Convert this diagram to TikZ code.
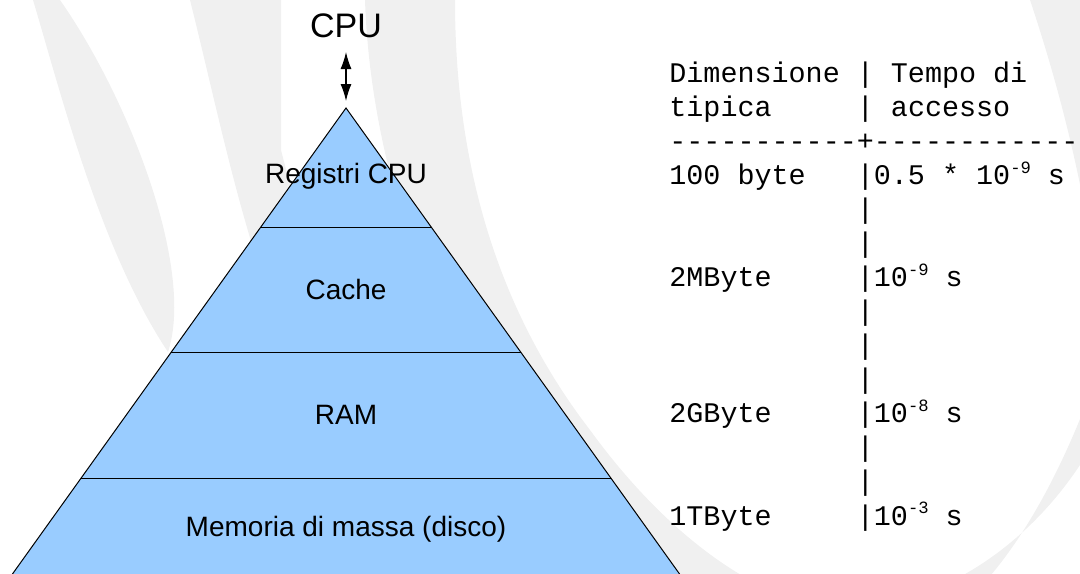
\documentclass[tikz,border=0pt]{standalone}
\usepackage{fontspec}
\setmainfont{Liberation Sans}
\setmonofont{Liberation Mono}
\usetikzlibrary{arrows.meta}
\definecolor{pyrblue}{HTML}{99CCFF}
\definecolor{wmgray}{HTML}{F0F0F0}
\newcommand\supx[1]{\raisebox{5.6pt}{\fontsize{8.6}{9}\selectfont #1}}
\tikzset{
  lvl/.style={anchor=base, inner sep=0pt, font=\fontsize{14}{16}\selectfont},
  tabrow/.style={anchor=base west, inner sep=0pt, font=\ttfamily\fontsize{14.2}{16}\selectfont},
  layer/.style={draw=black, line width=0.5pt},
  wm/.style={fill=wmgray, draw=none},
  dbl/.style={{Latex[length=8.5pt,width=5.5pt]}-{Latex[length=8.5pt,width=5.5pt]}, line width=0.6pt},
}
\begin{document}
\begin{tikzpicture}[x=0.5pt,y=-0.5pt]
\useasboundingbox (0,0) rectangle (1080,573);
\clip (0,0) rectangle (1080,573);
% faint watermark arcs
\fill[wm] (33,0) .. controls (60,90) and (100,250) .. (168,352)
          .. controls (195,270) and (130,100) .. (60,0) -- cycle;
\fill[wm] (190,0) .. controls (215,100) and (235,200) .. (270,300)
          -- (320,300) -- (281,150) -- (281,0) -- cycle;
\fill[wm] (365,0) -- (455,0) .. controls (455,150) and (490,300) .. (590,430)
          .. controls (670,540) and (760,600) .. (835,610)
          .. controls (940,610) and (1040,540) .. (1095,440)
          -- (1095,380) .. controls (1030,560) and (940,660) .. (835,660)
          .. controls (700,660) and (560,560) .. (500,450)
          .. controls (420,300) and (370,150) .. (365,0) -- cycle;
\fill[wm] (1030,0) .. controls (1050,60) and (1070,130) .. (1085,210) -- (1085,0) -- cycle;
% CPU and arrow
\node[anchor=base, inner sep=0pt, font=\fontsize{17}{20}\selectfont] (cpu) at (346,37) {CPU};
\coordinate (a1) at (346,52);
\coordinate (a2) at (346,101);
\draw[dbl] (a1) -- (a2);
% pyramid
\coordinate (apex) at (346,108);
\coordinate (bl) at (1,590);
\coordinate (br) at (691,590);
\filldraw[fill=pyrblue, layer] (apex) -- (bl) -- (br) -- cycle;
\draw[layer] (260.8,227) -- (431.2,227);
\draw[layer] (171.3,352) -- (520.7,352);
\draw[layer] (81.1,478) -- (610.9,478);
\node[lvl] (reg) at (346,183) {Registri CPU};
\node[lvl] (cache) at (346,299) {Cache};
\node[lvl] (ram) at (346,424) {RAM};
\node[lvl] (disk) at (346,536) {Memoria di massa (disco)};
% table
\node[tabrow] (r0) at (669,82) {Dimensione | Tempo di};
\node[tabrow] (r1) at (669,116.08) {tipica~~~~~| accesso};
\node[tabrow] (r2) at (669,150.16) {-----------+------------};
\node[tabrow] (r3) at (669,184.24) {100~byte~~~|0.5 * 10\supx{-9}~s};
\node[tabrow] (r4) at (669,218.32) {~~~~~~~~~~~|};
\node[tabrow] (r5) at (669,252.4) {~~~~~~~~~~~|};
\node[tabrow] (r6) at (669,286.48) {2MByte~~~~~|10\supx{-9}~s};
\node[tabrow] (r7) at (669,320.56) {~~~~~~~~~~~|};
\node[tabrow] (r8) at (669,354.64) {~~~~~~~~~~~|};
\node[tabrow] (r9) at (669,388.72) {~~~~~~~~~~~|};
\node[tabrow] (r10) at (669,422.8) {2GByte~~~~~|10\supx{-8}~s};
\node[tabrow] (r11) at (669,456.88) {~~~~~~~~~~~|};
\node[tabrow] (r12) at (669,490.96) {~~~~~~~~~~~|};
\node[tabrow] (r13) at (669,525.04) {1TByte~~~~~|10\supx{-3}~s};
\end{tikzpicture}
\end{document}
